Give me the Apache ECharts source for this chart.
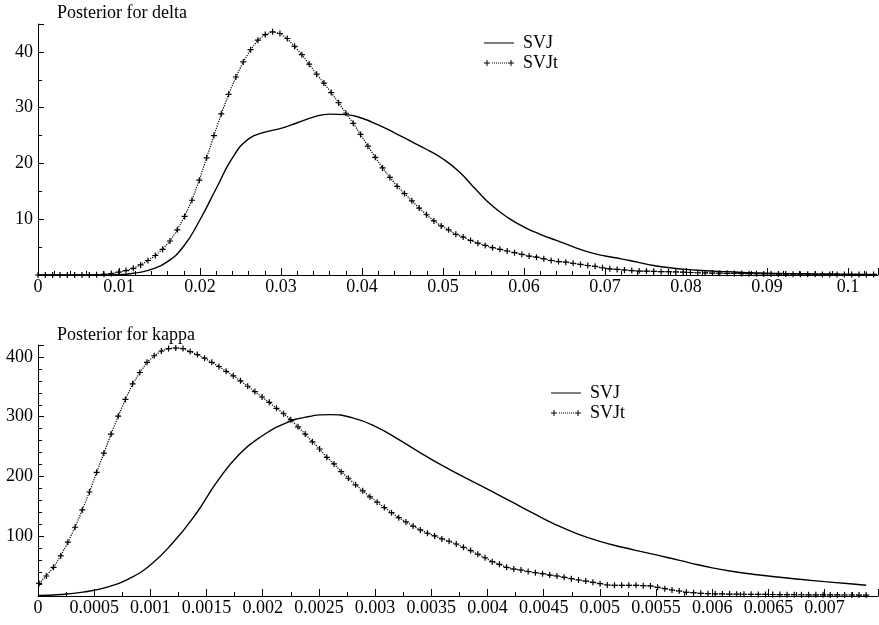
<!DOCTYPE html>
<html><head><meta charset="utf-8">
<script src="https://cdn.jsdelivr.net/npm/echarts@6/dist/echarts.min.js"></script>
<style>html,body{margin:0;padding:0;background:#fff}#c{width:879px;height:625px}</style>
</head><body><div id="c"></div>
<script>
// ---------- DATA ----------
// Posterior for delta
const deltaTickLabels = ['0','0.01','0.02','0.03','0.04','0.05','0.06','0.07','0.08','0.09','0.1'];
const deltaYTickLabels = ['10','20','30','40'];
const deltaSVJ = [
  [0,0],[0.002,0],[0.004,0],[0.006,0],[0.008,0],[0.010,0.05],[0.012,0.35],[0.014,1.0],
  [0.016,2.4],[0.018,5.2],[0.020,9.9],[0.022,15.5],[0.024,21.0],[0.026,24.4],[0.028,25.6],
  [0.030,26.3],[0.032,27.3],[0.034,28.3],[0.036,28.85],[0.038,28.75],[0.040,28.1],[0.042,26.9],
  [0.044,25.5],[0.046,24.0],[0.048,22.5],[0.050,20.8],[0.052,18.5],[0.054,15.4],[0.056,12.5],
  [0.058,10.3],[0.060,8.6],[0.062,7.3],[0.064,6.2],[0.066,5.1],[0.068,4.1],[0.070,3.4],
  [0.072,2.9],[0.074,2.3],[0.076,1.7],[0.078,1.3],[0.080,1.0],[0.082,0.8],[0.084,0.65],
  [0.086,0.55],[0.088,0.4],[0.090,0.33],[0.092,0.27],[0.094,0.23],[0.096,0.2],[0.098,0.17],
  [0.100,0.14],[0.102,0.12],[0.1036,0.1]
];
// SVJt density on its evaluation grid (start + i*step)
const deltaGridStart = 0;
const deltaGridStep = 0.000905;
const deltaSVJt = [
  0,0,0,0,0,0,0,0.02,0.05,0.12,
  0.25,0.5,0.8,1.2,1.8,2.6,3.5,4.6,6.1,8.1,
  10.5,13.4,17.0,21.0,25.0,28.9,32.4,35.5,38.2,40.4,
  42.1,43.1,43.6,43.3,42.4,41.0,39.5,37.8,36.0,34.4,
  32.7,30.9,29.0,27.2,25.2,23.1,21.1,19.2,17.5,15.9,
  14.6,13.3,12.0,10.8,9.7,8.8,8.1,7.3,6.8,6.2,
  5.7,5.3,4.9,4.6,4.3,4.0,3.7,3.4,3.2,2.9,
  2.6,2.4,2.3,2.1,1.9,1.7,1.55,1.3,1.1,1.0,
  0.9,0.8,0.7,0.7,0.65,0.6,0.6,0.55,0.5,0.45,
  0.4,0.38,0.35,0.32,0.3,0.28,0.26,0.24,0.22,0.2,
  0.18,0.17,0.16,0.15,0.14,0.13,0.12,0.11,0.1,0.1,
  0.09,0.08,0.08,0.07,0.07
];

// Posterior for kappa
const kappaTickLabels = ['0','0.0005','0.001','0.0015','0.002','0.0025','0.003','0.0035','0.004','0.0045','0.005','0.0055','0.006','0.0065','0.007'];
const kappaYTickLabels = ['100','200','300','400'];
const kappaSVJ = [
  [0,1],[0.0002,2.5],[0.0004,6.5],[0.0006,14],[0.0008,28],[0.0010,52],[0.0012,89],
  [0.0014,136],[0.0016,193],[0.0018,239],[0.0020,268.5],[0.0022,289],[0.0024,300],[0.0026,303.5],
  [0.0028,298],[0.0030,284],[0.0032,263],[0.0034,240],[0.0036,218],[0.0038,198],[0.0040,179],
  [0.0042,159],[0.0044,139],[0.0046,120],[0.0048,104],[0.0050,91.5],[0.0052,81.5],[0.0054,73],
  [0.0056,64.5],[0.0058,55.5],[0.0060,47],[0.0062,40.5],[0.0064,35.5],[0.0066,31.3],
  [0.0068,27.6],[0.0070,24],[0.0072,20.8],[0.00737,18]
];
const kappaGridStart = 0.00001;
const kappaGridStep = 0.000064;
const kappaSVJt = [
  21,33.5,48,67,90,115,144,174,207,239,
  271,301,329,355,374,391,402,410,414,415,
  414,409,404,398,391,384,376,368.5,360,351,
  342,333,324,314,305,295,283,271,258,246,
  232,221,208,197,186,176,166,157,148,139.5,
  131,124,117,110.5,105,100.5,95.5,91.6,87,81.5,
  76,70,64,57.5,53,48,45,43.5,41,39,
  37.4,35,33.5,31.3,29,26.8,25,22.9,20.7,18.4,
  17.9,17.9,17.9,17.9,17.3,16.8,14.5,12.3,10,8.4,
  6.2,5.6,4.5,3.9,3.6,3.4,3.2,3.0,2.9,2.8,
  2.7,2.6,2.5,2.4,2.3,2.2,2.1,2.0,2.0,1.9,
  1.8,1.8,1.7,1.7,1.6,1.6
];

// ---------- CHART ----------
const FONT = 'Liberation Serif';
const PLUS = 'path://M2,0H3V2H5V3H3V5H2V3H0V2H2Z';
const LEG_SOLID = 'path://M0,2.5H30V3.5H0Z';
const LEG_DOTTED = 'path://M0,2.5H6V3.5H0Z M2.5,0H3.5V6H2.5Z M8,2.5H9V3.5H8Z M10,2.5H11V3.5H10Z M12,2.5H13V3.5H12Z M14,2.5H15V3.5H14Z M16,2.5H17V3.5H16Z M18,2.5H19V3.5H18Z M20,2.5H21V3.5H20Z M22,2.5H23V3.5H22Z M24,2.5H30V3.5H24Z M26.5,0H27.5V6H26.5Z';

function grid2pairs(start, step, vals) { return vals.map((v, i) => [start + i * step, v]); }

function xAxisCfg(gi, max, interval, labels, minorSplit) {
  return {
    type: 'value', gridIndex: gi, min: 0, max: max, interval: interval,
    axisLine: { show: true, onZero: false, lineStyle: { color: '#000', width: 1 } },
    axisTick: { show: true, inside: true, length: 7, lineStyle: { color: '#000', width: 1 } },
    minorTick: { show: true, splitNumber: minorSplit, length: 4, lineStyle: { color: '#000', width: 1 } },
    axisLabel: {
      margin: 3, color: '#000', fontFamily: FONT, fontSize: 18, showMaxLabel: false,
      formatter: v => { const k = Math.round(v / interval); return Math.abs(k * interval - v) < interval * 1e-6 && labels[k] !== undefined ? labels[k] : ''; }
    },
    splitLine: { show: false }
  };
}
function yAxisCfg(gi, max, interval, labels, minorSplit) {
  return {
    type: 'value', gridIndex: gi, min: 0, max: max, interval: interval,
    axisLine: { show: true, lineStyle: { color: '#000', width: 1 } },
    axisTick: { show: true, inside: true, length: 6, lineStyle: { color: '#000', width: 1 } },
    minorTick: { show: true, splitNumber: minorSplit, length: 4, lineStyle: { color: '#000', width: 1 } },
    axisLabel: {
      margin: 5, color: '#000', fontFamily: FONT, fontSize: 18, showMaxLabel: false, showMinLabel: false,
      formatter: v => { const k = Math.round(v / interval); return Math.abs(k * interval - v) < 1e-9 && k >= 1 && labels[k - 1] !== undefined ? labels[k - 1] : ''; }
    },
    splitLine: { show: false }
  };
}
function legendCfg(left, top) {
  return {
    orient: 'vertical', left: left, top: top, padding: 0, itemGap: 2,
    itemWidth: 30, itemHeight: 6, symbolKeepAspect: true,
    itemStyle: { borderWidth: 0 },
    textStyle: { fontFamily: FONT, fontSize: 18, color: '#000', lineHeight: 18, padding: [0, 0, 0, 4] },
    data: [
      { name: 'SVJ', icon: LEG_SOLID, itemStyle: { color: '#000', borderWidth: 0 } },
      { name: 'SVJt', icon: LEG_DOTTED, itemStyle: { color: '#000', borderWidth: 0 } }
    ],
    selectedMode: false
  };
}
function solid(xi, data) {
  return { name: 'SVJ', type: 'line', xAxisIndex: xi, yAxisIndex: xi, data: data,
    smooth: 0.5, symbol: 'none', color: '#000',
    lineStyle: { color: '#000', width: 1.4 }, itemStyle: { color: '#000' }, z: 3 };
}
function dotted(xi, data) {
  return { name: 'SVJt', type: 'line', xAxisIndex: xi, yAxisIndex: xi, data: data,
    symbol: PLUS, symbolSize: 6, showAllSymbol: true, color: '#000',
    lineStyle: { color: '#000', width: 1.2, type: 'dotted' },
    itemStyle: { color: '#000', borderWidth: 0 }, z: 2 };
}

const chart = echarts.init(document.getElementById('c'), null, { renderer: 'canvas' });
chart.setOption({
  animation: false,
  backgroundColor: '#fff',
  textStyle: { fontFamily: FONT, color: '#000' },
  title: [
    { text: 'Posterior for delta', left: 57, top: 4, padding: 0,
      textStyle: { fontFamily: FONT, fontSize: 18, fontWeight: 'normal', color: '#000' } },
    { text: 'Posterior for kappa', left: 57, top: 326, padding: 0,
      textStyle: { fontFamily: FONT, fontSize: 18, fontWeight: 'normal', color: '#000' } }
  ],
  legend: [legendCfg(484, 34), legendCfg(551, 384)],
  grid: [
    { left: 38, top: 24, width: 840, height: 251, containLabel: false },
    { left: 38, top: 345, width: 840, height: 251, containLabel: false }
  ],
  xAxis: [
    xAxisCfg(0, 0.1037, 0.01, deltaTickLabels, 5),
    xAxisCfg(1, 0.007475, 0.0005, kappaTickLabels, 2)
  ],
  yAxis: [
    yAxisCfg(0, 45, 10, deltaYTickLabels, 2),
    yAxisCfg(1, 420, 100, kappaYTickLabels, 5)
  ],
  series: [
    solid(0, deltaSVJ),
    dotted(0, grid2pairs(deltaGridStart, deltaGridStep, deltaSVJt)),
    solid(1, kappaSVJ),
    dotted(1, grid2pairs(kappaGridStart, kappaGridStep, kappaSVJt))
  ]
});
</script></body></html>
